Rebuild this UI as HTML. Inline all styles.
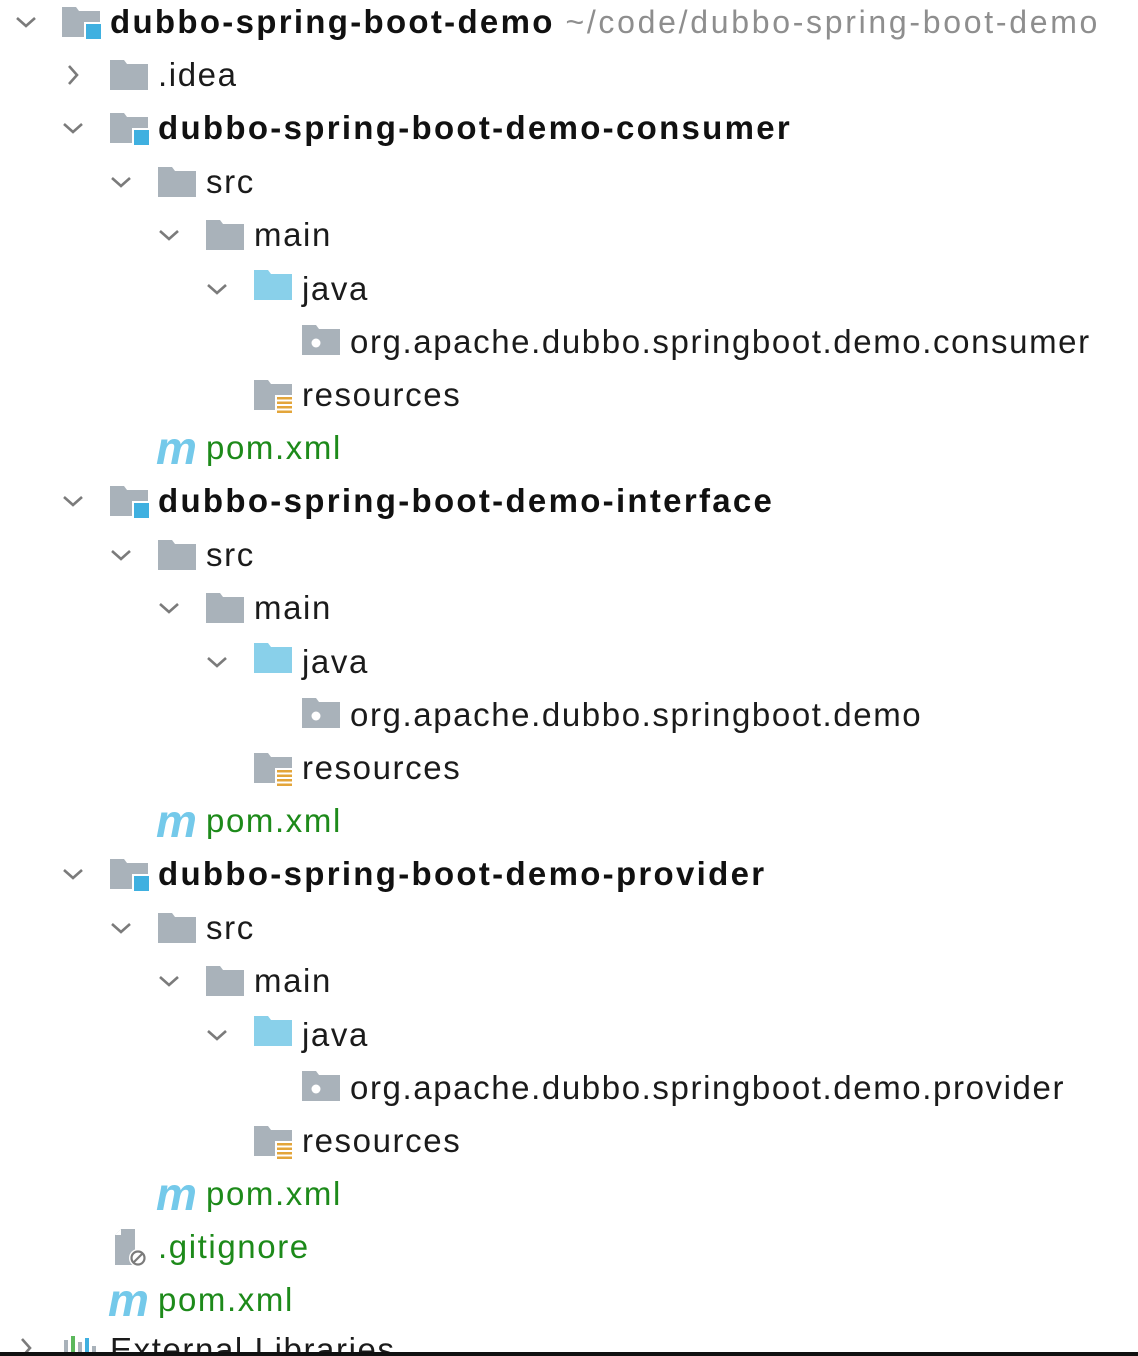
<!DOCTYPE html>
<html><head><meta charset="utf-8"><style>
html,body{margin:0;padding:0;background:#fff;width:1138px;height:1356px;overflow:hidden;position:relative;font-family:"Liberation Sans",sans-serif;}
.t{position:absolute;height:54px;line-height:54px;font-size:33px;color:#1b1b1b;white-space:nowrap;letter-spacing:1.6px;}
.b{font-weight:bold;color:#111;letter-spacing:2.3px;}
.g{color:#1d8a1a;}
.p{color:#8e8e8e;font-size:32px;letter-spacing:2.7px;}
.ic{position:absolute;}
.m{position:absolute;font-family:"Liberation Sans",sans-serif;font-weight:bold;font-style:italic;font-size:46px;color:#74c9ea;line-height:40px;letter-spacing:-2px;}
.bar{position:absolute;left:0;top:1352px;width:1138px;height:4px;background:#111;}
</style></head><body>
<svg width="0" height="0" style="position:absolute">
<defs>
<symbol id="dn" viewBox="0 0 24 24"><path d="M3 8 L12 16 L21 8" fill="none" stroke="#7b7b7b" stroke-width="2.6"/></symbol>
<symbol id="rt" viewBox="0 0 24 24"><path d="M8 3 L16 12 L8 21" fill="none" stroke="#7b7b7b" stroke-width="2.6"/></symbol>
<symbol id="fo" viewBox="0 0 40 36"><path d="M1 3 H15 L18 7 H39 V33 H1 Z" fill="#a9b2ba"/></symbol>
<symbol id="jf" viewBox="0 0 40 36"><path d="M1 3 H15 L18 7 H39 V33 H1 Z" fill="#89d0ea"/></symbol>
<symbol id="mo" viewBox="0 0 40 36"><path d="M1 3 H15 L18 7 H39 V33 H1 Z" fill="#a9b2ba"/><rect x="23" y="18" width="18" height="18" fill="#fff"/><rect x="25" y="20" width="15" height="15" fill="#3fb0e0"/></symbol>
<symbol id="pk" viewBox="0 0 40 36"><path d="M1 3 H15 L18 7 H39 V33 H1 Z" fill="#a9b2ba"/><circle cx="15" cy="21" r="4.5" fill="#fff"/></symbol>
<symbol id="rs" viewBox="0 0 40 36"><path d="M1 3 H15 L18 7 H39 V33 H1 Z" fill="#a9b2ba"/><rect x="22" y="18" width="18" height="18" fill="#fff"/><g fill="#e3a53a"><rect x="24" y="20" width="15" height="2.5"/><rect x="24" y="24.5" width="15" height="2.5"/><rect x="24" y="29" width="15" height="2.5"/><rect x="24" y="33.5" width="15" height="2.5"/></g></symbol>
<symbol id="gi" viewBox="0 0 40 40"><path d="M8 2 H22 V38 H2 V8 Z" fill="#a9b2ba"/><path d="M2 8 L8 2 V8 Z" fill="#fff"/><circle cx="25" cy="31" r="9" fill="#fff"/><circle cx="25" cy="31" r="6.5" fill="none" stroke="#7b7b7b" stroke-width="2.2"/><path d="M20.5 35.5 L29.5 26.5" stroke="#7b7b7b" stroke-width="2.2"/></symbol>
<symbol id="lb" viewBox="0 0 40 40"><rect x="4" y="8" width="4" height="30" fill="#a9b2ba"/><rect x="11" y="4" width="4" height="34" fill="#5cb85c"/><rect x="18" y="10" width="4" height="28" fill="#a9b2ba"/><rect x="25" y="6" width="4" height="32" fill="#3fb0e0"/><rect x="32" y="14" width="4" height="24" fill="#a9b2ba"/></symbol>
</defs></svg>

<svg class="ic" style="left:14px;top:10px" width="24" height="24"><use href="#dn"/></svg>
<svg class="ic" style="left:61px;top:4px" width="40" height="36"><use href="#mo"/></svg>
<div class="t" style="left:110px;top:-5px"><span class="b">dubbo-spring-boot-demo</span> <span class="p">~/code/dubbo-spring-boot-demo</span></div>

<svg class="ic" style="left:61px;top:63px" width="24" height="24"><use href="#rt"/></svg>
<svg class="ic" style="left:109px;top:57px" width="40" height="36"><use href="#fo"/></svg>
<div class="t" style="left:158px;top:48px">.idea</div>

<svg class="ic" style="left:61px;top:116px" width="24" height="24"><use href="#dn"/></svg>
<svg class="ic" style="left:109px;top:110px" width="40" height="36"><use href="#mo"/></svg>
<div class="t b" style="left:158px;top:101px">dubbo-spring-boot-demo-consumer</div>
<svg class="ic" style="left:109px;top:170px" width="24" height="24"><use href="#dn"/></svg>
<svg class="ic" style="left:157px;top:164px" width="40" height="36"><use href="#fo"/></svg>
<div class="t" style="left:206px;top:155px">src</div>
<svg class="ic" style="left:157px;top:223px" width="24" height="24"><use href="#dn"/></svg>
<svg class="ic" style="left:205px;top:217px" width="40" height="36"><use href="#fo"/></svg>
<div class="t" style="left:254px;top:208px">main</div>
<svg class="ic" style="left:205px;top:277px" width="24" height="24"><use href="#dn"/></svg>
<svg class="ic" style="left:253px;top:267px" width="40" height="36"><use href="#jf"/></svg>
<div class="t" style="left:302px;top:262px">java</div>
<svg class="ic" style="left:301px;top:322px" width="40" height="36"><use href="#pk"/></svg>
<div class="t" style="left:350px;top:315px">org.apache.dubbo.springboot.demo.consumer</div>
<svg class="ic" style="left:253px;top:377px" width="40" height="36"><use href="#rs"/></svg>
<div class="t" style="left:302px;top:368px">resources</div>
<div class="m" style="left:156px;top:428px">m</div>
<div class="t g" style="left:206px;top:421px">pom.xml</div>

<svg class="ic" style="left:61px;top:489px" width="24" height="24"><use href="#dn"/></svg>
<svg class="ic" style="left:109px;top:483px" width="40" height="36"><use href="#mo"/></svg>
<div class="t b" style="left:158px;top:474px">dubbo-spring-boot-demo-interface</div>
<svg class="ic" style="left:109px;top:543px" width="24" height="24"><use href="#dn"/></svg>
<svg class="ic" style="left:157px;top:537px" width="40" height="36"><use href="#fo"/></svg>
<div class="t" style="left:206px;top:528px">src</div>
<svg class="ic" style="left:157px;top:596px" width="24" height="24"><use href="#dn"/></svg>
<svg class="ic" style="left:205px;top:590px" width="40" height="36"><use href="#fo"/></svg>
<div class="t" style="left:254px;top:581px">main</div>
<svg class="ic" style="left:205px;top:650px" width="24" height="24"><use href="#dn"/></svg>
<svg class="ic" style="left:253px;top:640px" width="40" height="36"><use href="#jf"/></svg>
<div class="t" style="left:302px;top:635px">java</div>
<svg class="ic" style="left:301px;top:695px" width="40" height="36"><use href="#pk"/></svg>
<div class="t" style="left:350px;top:688px">org.apache.dubbo.springboot.demo</div>
<svg class="ic" style="left:253px;top:750px" width="40" height="36"><use href="#rs"/></svg>
<div class="t" style="left:302px;top:741px">resources</div>
<div class="m" style="left:156px;top:801px">m</div>
<div class="t g" style="left:206px;top:794px">pom.xml</div>

<svg class="ic" style="left:61px;top:862px" width="24" height="24"><use href="#dn"/></svg>
<svg class="ic" style="left:109px;top:856px" width="40" height="36"><use href="#mo"/></svg>
<div class="t b" style="left:158px;top:847px">dubbo-spring-boot-demo-provider</div>
<svg class="ic" style="left:109px;top:916px" width="24" height="24"><use href="#dn"/></svg>
<svg class="ic" style="left:157px;top:910px" width="40" height="36"><use href="#fo"/></svg>
<div class="t" style="left:206px;top:901px">src</div>
<svg class="ic" style="left:157px;top:969px" width="24" height="24"><use href="#dn"/></svg>
<svg class="ic" style="left:205px;top:963px" width="40" height="36"><use href="#fo"/></svg>
<div class="t" style="left:254px;top:954px">main</div>
<svg class="ic" style="left:205px;top:1023px" width="24" height="24"><use href="#dn"/></svg>
<svg class="ic" style="left:253px;top:1013px" width="40" height="36"><use href="#jf"/></svg>
<div class="t" style="left:302px;top:1008px">java</div>
<svg class="ic" style="left:301px;top:1068px" width="40" height="36"><use href="#pk"/></svg>
<div class="t" style="left:350px;top:1061px">org.apache.dubbo.springboot.demo.provider</div>
<svg class="ic" style="left:253px;top:1123px" width="40" height="36"><use href="#rs"/></svg>
<div class="t" style="left:302px;top:1114px">resources</div>
<div class="m" style="left:156px;top:1174px">m</div>
<div class="t g" style="left:206px;top:1167px">pom.xml</div>

<svg class="ic" style="left:113px;top:1227px" width="40" height="40"><use href="#gi"/></svg>
<div class="t g" style="left:158px;top:1220px">.gitignore</div>
<div class="m" style="left:108px;top:1280px">m</div>
<div class="t g" style="left:158px;top:1273px">pom.xml</div>

<svg class="ic" style="left:14px;top:1336px" width="24" height="24"><use href="#rt"/></svg>
<svg class="ic" style="left:60px;top:1332px" width="40" height="40"><use href="#lb"/></svg>
<div class="t" style="left:110px;top:1323px">External Libraries</div>
<div class="bar"></div>
</body></html>
